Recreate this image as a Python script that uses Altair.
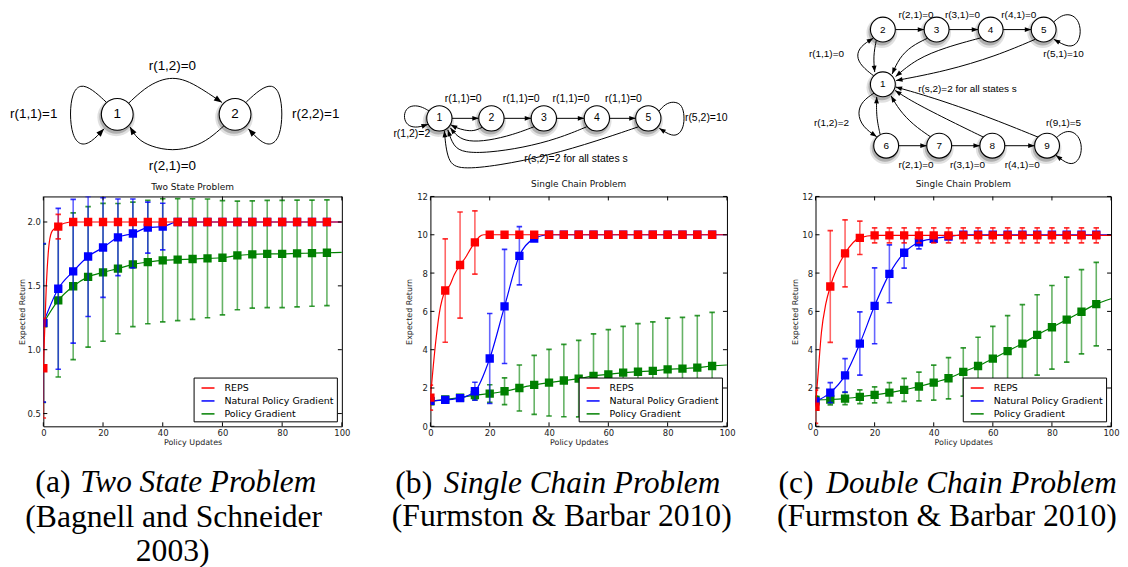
import math
import altair as alt
import pandas as pd

# ---------------------------------------------------------------- data
X_MARK = [0, 5, 10, 15, 20, 25, 30, 35, 40, 45, 50, 55, 60, 65, 70, 75, 80, 85, 90, 95]
X_TICKS = [0, 20, 40, 60, 80, 100]
SERIES = ["REPS", "Natural Policy Gradient", "Policy Gradient"]
COLORS = ["#ff0000", "#0000ff", "#008000"]

# (a) Two State Problem
A_REPS_MEAN = [0.855, 1.964, 2.0, 2.0, 2.0, 2.0, 2.0, 2.0, 2.0, 2.0, 2.0, 2.0, 2.0, 2.0, 2.0, 2.0, 2.0, 2.0, 2.0, 2.0]
A_REPS_STD = [0.39, 0.096, 0, 0, 0, 0, 0, 0, 0, 0, 0, 0, 0, 0, 0, 0, 0, 0, 0, 0]
A_REPS_LX = [0, 1, 2, 3, 5, 7, 10, 15, 20, 25, 30, 35, 40, 45, 50, 55, 60, 65, 70, 75, 80, 85, 90, 95, 100]
A_REPS_LY = [0.855, 1.5, 1.84, 1.93, 1.964, 1.99, 2.0, 2.0, 2.0, 2.0, 2.0, 2.0, 2.0, 2.0, 2.0, 2.0, 2.0, 2.0, 2.0, 2.0, 2.0, 2.0, 2.0, 2.0, 2.0]
A_NPG_MEAN = [1.21, 1.477, 1.614, 1.73, 1.80, 1.88, 1.91, 1.956, 1.964, 2.0, 2.0, 2.0, 2.0, 2.0, 2.0, 2.0, 2.0, 2.0, 2.0, 2.0]
A_NPG_STD = [0.62, 0.63, 0.563, 0.47, 0.39, 0.30, 0.27, 0.20, 0.183, 0, 0, 0, 0, 0, 0, 0, 0, 0, 0, 0]
A_NPG_END = 2.0
A_PG_MEAN = [1.207, 1.386, 1.497, 1.57, 1.606, 1.635, 1.668, 1.686, 1.70, 1.705, 1.71, 1.715, 1.72, 1.738, 1.746, 1.75, 1.75, 1.754, 1.756, 1.759]
A_PG_STD = [0.62, 0.60, 0.575, 0.55, 0.54, 0.51, 0.487, 0.483, 0.482, 0.478, 0.472, 0.465, 0.447, 0.425, 0.42, 0.42, 0.42, 0.418, 0.416, 0.414]
A_PG_END = 1.762
A_YTICKS = [0.5, 1.0, 1.5, 2.0]

# (b) Single Chain Problem
B_REPS_MEAN = [1.50, 7.09, 8.42, 9.6, 10.0, 10.0, 10.0, 10.0, 10.0, 10.0, 10.0, 10.0, 10.0, 10.0, 10.0, 10.0, 10.0, 10.0, 10.0, 10.0]
B_REPS_STD = [0.65, 2.7, 2.77, 1.65, 0, 0, 0, 0, 0, 0, 0, 0, 0, 0, 0, 0, 0, 0, 0, 0]
B_REPS_LX = [0, 1, 2, 3, 5, 6.5, 8, 10, 12, 13.5, 15, 16.5, 18, 20, 25, 30, 35, 40, 45, 50, 55, 60, 65, 70, 75, 80, 85, 90, 95, 100]
B_REPS_LY = [1.5, 3.2, 4.7, 5.9, 7.09, 7.35, 7.9, 8.42, 8.85, 9.25, 9.6, 9.9, 10.0, 10.0, 10.0, 10.0, 10.0, 10.0, 10.0, 10.0, 10.0, 10.0, 10.0, 10.0, 10.0, 10.0, 10.0, 10.0, 10.0, 10.0]
B_NPG_MEAN = [1.33, 1.38, 1.47, 1.83, 3.54, 6.26, 8.9, 9.8, 10.0, 10.0, 10.0, 10.0, 10.0, 10.0, 10.0, 10.0, 10.0, 10.0, 10.0, 10.0]
B_NPG_STD = [0.05, 0.1, 0.1, 0.47, 2.35, 2.98, 1.52, 0.1, 0, 0, 0, 0, 0, 0, 0, 0, 0, 0, 0, 0]
B_NPG_END = 10.0
B_PG_MEAN = [1.30, 1.40, 1.50, 1.63, 1.71, 1.83, 2.0, 2.16, 2.28, 2.39, 2.49, 2.63, 2.71, 2.80, 2.85, 2.89, 2.97, 3.01, 3.06, 3.15]
B_PG_STD = [0.05, 0.05, 0.1, 0.25, 0.46, 0.7, 1.2, 1.54, 1.74, 1.89, 2.0, 2.2, 2.34, 2.42, 2.51, 2.56, 2.68, 2.68, 2.72, 2.8]
B_PG_END = 3.2
BC_YTICKS = [0, 2, 4, 6, 8, 10, 12]

# (c) Double Chain Problem
C_REPS_MEAN = [1.02, 7.30, 9.03, 9.84, 9.97, 9.97, 9.97, 9.97, 9.97, 9.97, 9.97, 9.97, 9.97, 9.97, 9.97, 9.97, 9.97, 9.97, 9.97, 9.97]
C_REPS_STD = [0.87, 2.92, 1.75, 0.87, 0.39, 0.39, 0.39, 0.39, 0.39, 0.39, 0.39, 0.39, 0.39, 0.39, 0.39, 0.39, 0.39, 0.39, 0.39, 0.39]
C_REPS_LX = [0, 1, 2, 3.5, 5, 10, 15, 20, 25, 30, 35, 40, 45, 50, 55, 60, 65, 70, 75, 80, 85, 90, 95, 100]
C_REPS_LY = [1.02, 3.0, 4.9, 6.4, 7.3, 9.03, 9.84, 9.97, 9.97, 9.97, 9.97, 9.97, 9.97, 9.97, 9.97, 9.97, 9.97, 9.97, 9.97, 9.97, 9.97, 9.97, 9.97, 9.97]
C_NPG_MEAN = [1.3, 1.76, 2.66, 4.32, 6.29, 7.96, 9.06, 9.61, 9.79, 9.9, 10.0, 10.0, 10.0, 10.0, 10.0, 10.0, 10.0, 10.0, 10.0, 10.0]
C_NPG_STD = [0.05, 0.52, 0.87, 1.65, 1.98, 1.51, 0.8, 0.35, 0.1, 0.05, 0, 0, 0, 0, 0, 0, 0, 0, 0, 0]
C_NPG_END = 10.0
C_PG_MEAN = [1.38, 1.40, 1.45, 1.54, 1.64, 1.76, 1.90, 2.08, 2.28, 2.51, 2.84, 3.15, 3.53, 3.93, 4.32, 4.77, 5.17, 5.57, 5.98, 6.38]
C_PG_STD = [0.2, 0.28, 0.32, 0.36, 0.42, 0.52, 0.6, 0.75, 0.91, 1.08, 1.26, 1.5, 1.69, 1.85, 2.03, 2.1, 2.18, 2.22, 2.2, 2.18]
C_PG_END = 6.66

# ---------------------------------------------------------------- diagrams (layout units)
A_NODES = [("1", 117.3, 113.5), ("2", 235.7, 113.5)]
A_EDGES = {
    "12": [(129, 102), (145, 87), (160, 79), (173, 76.5), (186, 79), (201, 87), (222.5, 101.5)],
    "21": [(224.5, 125), (210, 138), (195, 146), (173, 150.5), (151, 146), (137, 138), (130, 126)],
    "11": [(106, 101), (92, 88), (80, 83), (72, 92), (69.5, 113), (72, 135), (80, 145), (91, 142), (104, 128)],
    "22": [(247, 101), (261, 88), (273, 83), (281, 92), (283.5, 113), (281, 135), (273, 145), (262, 142), (249, 128)],
}
A_LABELS = [("r(1,2)=0", 172.7, 65), ("r(2,1)=0", 172.7, 165),
            ("r(1,1)=1", 33.3, 113.5), ("r(2,2)=1", 316.7, 113.5)]

B_NODES = [("1", 441, 117.5), ("2", 493.3, 117.5), ("3", 546, 117.5), ("4", 599.3, 117.5), ("5", 651, 117.5)]
B_EDGES = {
    "12": [(453.7, 117.5), (480.6, 117.5)],
    "23": [(506, 117.5), (533.3, 117.5)],
    "34": [(558.7, 117.5), (586.6, 117.5)],
    "45": [(612, 117.5), (638.3, 117.5)],
    "21": [(484, 126.5), (476, 130.5), (466, 129.5), (458, 127), (452.5, 124)],
    "31": [(536, 126), (515, 134), (490, 140), (470, 141), (459, 136), (452, 127)],
    "41": [(589, 126), (560, 138), (525, 147), (490, 152), (466, 152), (455, 146), (449.5, 129)],
    "51": [(641, 126), (600, 140), (550, 155), (500, 165), (462, 169), (449, 162), (446, 130)],
    "11": [(430.5, 110), (422, 105), (412, 104.5), (406, 110), (405.5, 119), (410, 125.5), (419, 127), (429.5, 123.5)],
    "55": [(661.5, 110.5), (668, 103), (676, 100.5), (684, 103), (687, 112), (687, 124), (683, 133), (675, 136), (662, 127.5)],
}
B_LABELS = [("r(1,1)=0", 465, 98), ("r(1,1)=0", 523.3, 98), ("r(1,1)=0", 573.3, 98), ("r(1,1)=0", 626, 98),
            ("r(5,2)=10", 709.2, 117.5), ("r(1,2)=2", 413.3, 133.3),
            ("r(s,2)=2 for all states s", 578.3, 158.3)]

C_NODES = [("1", 886.7, 83.3), ("2", 886.7, 28.3), ("3", 940.7, 28.3), ("4", 995, 28.3), ("5", 1048.3, 28.3),
           ("6", 890, 145), ("7", 943.3, 145), ("8", 996.7, 145), ("9", 1051.7, 145)]
C_EDGES = {
    "23": [(899.2, 28.3), (928.2, 28.3)],
    "34": [(953.2, 28.3), (982.5, 28.3)],
    "45": [(1007.5, 28.3), (1035.8, 28.3)],
    "67": [(902.5, 145), (930.8, 145)],
    "78": [(955.8, 145), (984.2, 145)],
    "89": [(1009.2, 145), (1039.2, 145)],
    "12": [(877.5, 74.8), (865, 65), (860, 55), (864, 45), (877, 37)],
    "21": [(880, 39.5), (877, 55), (878.5, 71)],
    "31": [(931.5, 37), (915, 45), (903, 57), (896, 73)],
    "41": [(985.5, 36.5), (950, 46), (920, 58), (899.5, 75.5)],
    "51": [(1040, 38), (1000, 55), (950, 70), (900, 79.5)],
    "55": [(1058.5, 20.5), (1066, 14), (1075, 12.5), (1083, 18), (1086, 30), (1083, 42), (1074, 47), (1058.5, 38)],
    "16": [(878, 92), (866, 100), (861, 112), (866, 126), (880.5, 136)],
    "61": [(884, 133.8), (880, 116), (880.5, 96)],
    "71": [(934.5, 136), (917, 124), (903, 109), (895, 95)],
    "81": [(988, 136.5), (950, 118), (915, 100), (899, 89.5)],
    "91": [(1043, 136.5), (990, 115), (935, 96), (899.5, 86)],
    "99": [(1061, 137), (1068, 131), (1077, 130), (1085, 137), (1087, 150), (1083, 161), (1074, 165), (1060.5, 154.5)],
}
C_LABELS = [("r(2,1)=0", 920, 13.5), ("r(3,1)=0", 966.7, 13.5), ("r(4,1)=0", 1023.3, 13.5),
            ("r(1,1)=0", 830, 53.3), ("r(5,1)=10", 1068.3, 53.3),
            ("r(s,2)=2 for all states s", 971.7, 88.3),
            ("r(1,2)=2", 835, 121.7), ("r(9,1)=5", 1068.3, 121.7),
            ("r(2,1)=0", 920, 164), ("r(3,1)=0", 971.7, 164), ("r(4,1)=0", 1026.7, 164)]

# captions: (text, x, baseline, align, style)
A_CAPTION = [("(a)", 35, 493.5, "left", "normal"), ("Two State Problem", 317.3, 493.5, "right", "italic"),
             ("(Bagnell and Schneider", 174, 528, "center", "normal"), ("2003)", 173, 562, "center", "normal")]
B_CAPTION = [("(b)", 396.7, 494, "left", "normal"), ("Single Chain Problem", 723.3, 494, "right", "italic"),
             ("(Furmston & Barbar 2010)", 564, 527.5, "center", "normal")]
C_CAPTION = [("(c)", 781.7, 494, "left", "normal"), ("Double Chain Problem", 1121.7, 494, "right", "italic"),
             ("(Furmston & Barbar 2010)", 951, 527.5, "center", "normal")]

# ---------------------------------------------------------------- layout
PLOT_H = 231
DIAG_H = 180
CAP_H = 127
LEFTS = [43, 432, 819]
WIDTHS = [300, 298, 297]
ARROW = "M0,0L-0.75,2L0.75,2Z"
PLOT_FONT = "DejaVu Sans"
CAP_SIZE = {"normal": 31.8, "italic": 31.4}


def plot_panel(title, width, ydomain, yticks, yfmt, series):
    xs = alt.Scale(domain=[0, 100], nice=False, zero=False)
    ys = alt.Scale(domain=ydomain, nice=False, zero=False)
    xaxis = alt.Axis(values=X_TICKS, format="d", title="Policy Updates", labelFlush=False,
                     labelOverlap=False, labelPadding=2.5, titlePadding=1)
    yaxis = alt.Axis(values=yticks, format=yfmt, title="Expected Return", labelOverlap=False,
                     labelFlush=False, labelPadding=3, titleX=-20.5, titleBaseline="middle")
    X = lambda f: alt.X(f, scale=xs, axis=xaxis)
    Y = lambda f: alt.Y(f, scale=ys, axis=yaxis)
    cscale = alt.Scale(domain=SERIES, range=COLORS)
    layers = []
    for name, color, mean, std, lx, ly in series:
        mk = pd.DataFrame({"x": X_MARK, "mean": mean,
                           "lo": [m - s for m, s in zip(mean, std)],
                           "hi": [m + s for m, s in zip(mean, std)]})
        cp = pd.DataFrame({"x": X_MARK + X_MARK,
                           "v": list(mk["lo"]) + list(mk["hi"])})
        ln = pd.DataFrame({"x": lx, "y": ly, "series": name})
        layers.append(alt.Chart(mk).mark_rule(color=color, strokeWidth=1.6, opacity=0.6, clip=True)
                      .encode(x=X("x:Q"), y=Y("lo:Q"), y2="hi:Q"))
        layers.append(alt.Chart(cp).mark_tick(color=color, orient="horizontal", size=5.5, thickness=1.7,
                                              opacity=0.8, clip=True)
                      .encode(x=X("x:Q"), y=Y("v:Q")))
        layers.append(alt.Chart(ln).mark_line(strokeWidth=1.2, interpolate="monotone", clip=True)
                      .encode(x=X("x:Q"), y=Y("y:Q"),
                              color=alt.Color("series:N", scale=cscale, legend=alt.Legend(title=None))))
        layers.append(alt.Chart(mk).mark_point(shape="square", filled=True, size=70, color=color,
                                               opacity=1, clip=True)
                      .encode(x=X("x:Q"), y=Y("mean:Q")))
    xt = pd.DataFrame({"v": X_TICKS})
    yt = pd.DataFrame({"v": yticks})
    tick = dict(color="black", strokeWidth=1)
    layers.append(alt.Chart(xt).mark_rule(**tick).encode(x=X("v:Q"), y=alt.value(PLOT_H), y2=alt.value(PLOT_H - 4)))
    layers.append(alt.Chart(xt).mark_rule(**tick).encode(x=X("v:Q"), y=alt.value(0), y2=alt.value(4)))
    layers.append(alt.Chart(yt).mark_rule(**tick).encode(y=Y("v:Q"), x=alt.value(0), x2=alt.value(4)))
    layers.append(alt.Chart(yt).mark_rule(**tick).encode(y=Y("v:Q"), x=alt.value(width), x2=alt.value(width - 4)))
    return alt.layer(*layers).properties(
        width=width, height=PLOT_H,
        title=alt.TitleParams(title, font=PLOT_FONT, fontSize=9, fontWeight="normal", offset=4, color="#111"),
        view=alt.ViewBackground(stroke="black", strokeWidth=1),
    )


def diagram(left, width, nodes, edges, labels, r, font_size, arrow_size):
    xs = alt.Scale(domain=[left, left + width], range=[0, width], nice=False, zero=False)
    ys = alt.Scale(domain=[8, 8 + DIAG_H], range=[0, DIAG_H], nice=False, zero=False)
    X = alt.X("x:Q", scale=xs, axis=None)
    Y = alt.Y("y:Q", scale=ys, axis=None)
    nd = pd.DataFrame(nodes, columns=["label", "x", "y"])
    erows, arows = [], []
    for name, pts in edges.items():
        for i, (x, y) in enumerate(pts):
            erows.append({"edge": name, "seq": i, "x": x, "y": y})
        (x0, y0), (x1, y1) = pts[-2], pts[-1]
        ang = math.degrees(math.atan2(x1 - x0, -(y1 - y0))) % 360
        arows.append({"x": x1, "y": y1, "angle": ang})
    ed = pd.DataFrame(erows)
    ad = pd.DataFrame(arows)
    lb = pd.DataFrame(labels, columns=["label", "x", "y"])
    d = 2 * r
    shadow1 = alt.Chart(nd).mark_point(shape="circle", filled=True, color="black", opacity=0.12,
                                       size=(d + 6) ** 2, xOffset=-1, yOffset=3).encode(x=X, y=Y)
    shadow2 = alt.Chart(nd).mark_point(shape="circle", filled=True, color="black", opacity=0.22,
                                       size=(d + 2) ** 2, xOffset=-1, yOffset=2.5).encode(x=X, y=Y)
    lines = alt.Chart(ed).mark_line(interpolate="basis", color="black", strokeWidth=1).encode(
        x=X, y=Y, detail="edge:N", order="seq:Q")
    circles = alt.Chart(nd).mark_point(shape="circle", filled=True, fill="white", stroke="black",
                                       strokeWidth=1.1, opacity=1, size=d ** 2).encode(x=X, y=Y)
    ntext = alt.Chart(nd).mark_text(font="Liberation Sans", fontSize=font_size, color="black").encode(
        x=X, y=Y, text="label:N")
    heads = alt.Chart(ad).mark_point(shape=ARROW, filled=True, color="black", opacity=1,
                                     size=arrow_size).encode(x=X, y=Y, angle=alt.Angle("angle:Q", scale=None))
    ltext = alt.Chart(lb).mark_text(font="Liberation Sans", fontSize=font_size, color="black").encode(
        x=X, y=Y, text="label:N")
    return alt.layer(shadow1, shadow2, lines, circles, ntext, heads, ltext).properties(width=width, height=DIAG_H)


def caption(left, width, rows):
    xs = alt.Scale(domain=[left, left + width], range=[0, width], nice=False, zero=False)
    top = 8 + DIAG_H + 8 + PLOT_H + 8
    ys = alt.Scale(domain=[top, top + CAP_H], range=[0, CAP_H], nice=False, zero=False)
    df = pd.DataFrame(rows, columns=["text", "x", "y", "align", "style"])
    layers = []
    for align in ["left", "right", "center"]:
        for style in ["normal", "italic"]:
            sub = df[(df["align"] == align) & (df["style"] == style)]
            if len(sub) == 0:
                continue
            layers.append(alt.Chart(sub).mark_text(font="Liberation Serif", fontSize=CAP_SIZE[style], align=align,
                                                   baseline="alphabetic", fontStyle=style, color="black")
                          .encode(x=alt.X("x:Q", scale=xs, axis=None), y=alt.Y("y:Q", scale=ys, axis=None),
                                  text="text:N"))
    return alt.layer(*layers).properties(width=width, height=CAP_H)


def mk_series(reps_mean, reps_std, reps_lx, reps_ly, npg_mean, npg_std, npg_end, pg_mean, pg_std, pg_end):
    lx = X_MARK + [100]
    return [
        ("Policy Gradient", COLORS[2], pg_mean, pg_std, lx, pg_mean + [pg_end]),
        ("Natural Policy Gradient", COLORS[1], npg_mean, npg_std, lx, npg_mean + [npg_end]),
        ("REPS", COLORS[0], reps_mean, reps_std, reps_lx, reps_ly),
    ]


SER_A = mk_series(A_REPS_MEAN, A_REPS_STD, A_REPS_LX, A_REPS_LY, A_NPG_MEAN, A_NPG_STD, A_NPG_END,
                  A_PG_MEAN, A_PG_STD, A_PG_END)
SER_B = mk_series(B_REPS_MEAN, B_REPS_STD, B_REPS_LX, B_REPS_LY, B_NPG_MEAN, B_NPG_STD, B_NPG_END,
                  B_PG_MEAN, B_PG_STD, B_PG_END)
SER_C = mk_series(C_REPS_MEAN, C_REPS_STD, C_REPS_LX, C_REPS_LY, C_NPG_MEAN, C_NPG_STD, C_NPG_END,
                  C_PG_MEAN, C_PG_STD, C_PG_END)

cells = [
    diagram(LEFTS[0], WIDTHS[0], A_NODES, A_EDGES, A_LABELS, 16, 13.5, 64),
    diagram(LEFTS[1], WIDTHS[1], B_NODES, B_EDGES, B_LABELS, 12.7, 10.5, 42),
    diagram(LEFTS[2], WIDTHS[2], C_NODES, C_EDGES, C_LABELS, 12.5, 10, 42),
    plot_panel("Two State Problem", WIDTHS[0], [0.4, 2.2], A_YTICKS, ".1f", SER_A),
    plot_panel("Single Chain Problem", WIDTHS[1], [0, 12], BC_YTICKS, "d", SER_B),
    plot_panel("Single Chain Problem", WIDTHS[2], [0, 12], BC_YTICKS, "d", SER_C),
    caption(LEFTS[0], WIDTHS[0], A_CAPTION),
    caption(LEFTS[1], WIDTHS[1], B_CAPTION),
    caption(LEFTS[2], WIDTHS[2], C_CAPTION),
]

chart = (
    alt.concat(*cells, columns=3, spacing={"row": 8, "column": 89}, bounds="flush")
    .resolve_scale(x="independent", y="independent", color="independent")
    .properties(padding={"left": 1.5, "top": 0, "right": 0, "bottom": 0})
    .configure_view(strokeWidth=0)
    .configure_axis(labelFont=PLOT_FONT, labelFontSize=8.5, labelColor="#222", titleFont=PLOT_FONT,
                    titleFontSize=8, titleFontWeight="normal", titleColor="#222", ticks=False, domain=False,
                    grid=False)
    .configure_legend(orient="bottom-right", offset=5, strokeColor="black", strokeWidth=1, fillColor="white",
                      padding=3, cornerRadius=0, labelFont=PLOT_FONT, labelFontSize=9.5, labelColor="black",
                      symbolType="stroke", symbolSize=170, symbolStrokeWidth=1.5, labelOffset=9,
                      rowPadding=1, symbolOffset=4, labelLimit=300)
)

chart.save("out.html", embed_options={"renderer": "svg", "actions": False})
